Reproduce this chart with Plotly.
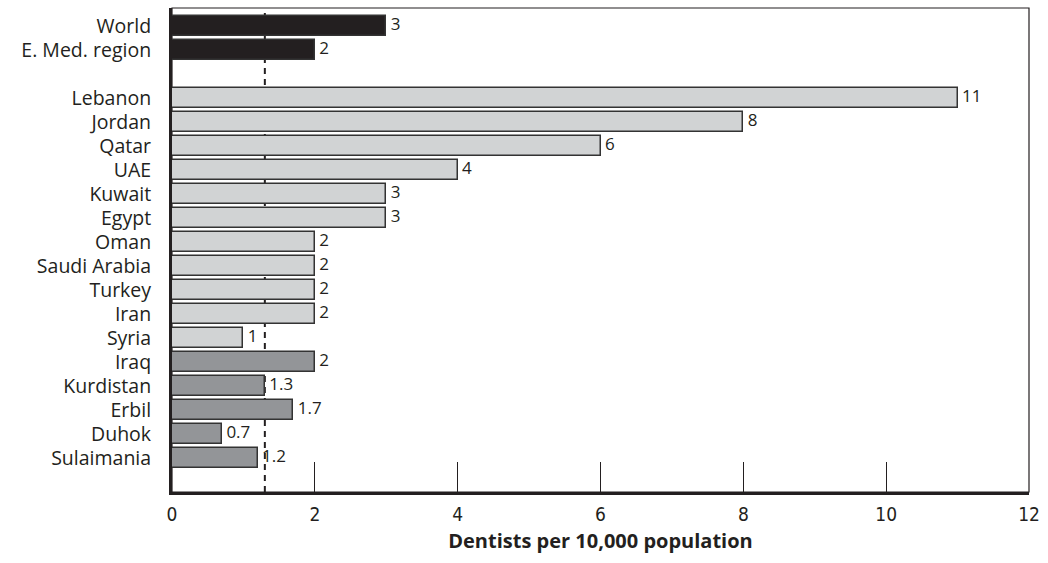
import plotly.graph_objects as go

# Dentists per 10,000 population, top to bottom ("" is a spacer row)
categories = ["World", "E. Med. region", "",
              "Lebanon", "Jordan", "Qatar", "UAE", "Kuwait", "Egypt", "Oman",
              "Saudi Arabia", "Turkey", "Iran", "Syria",
              "Iraq", "Kurdistan", "Erbil", "Duhok", "Sulaimania"]
values = [3, 2, None,
          11, 8, 6, 4, 3, 3, 2,
          2, 2, 2, 1,
          2, 1.3, 1.7, 0.7, 1.2]
labels = ["3", "2", "",
          "11", "8", "6", "4", "3", "3", "2",
          "2", "2", "2", "1",
          "2", "1.3", "1.7", "0.7", "1.2"]
groups = ["ref", "ref", None] + ["country"] * 11 + ["iraq"] * 5
kurdistan_level = 1.3

colors = {"ref": "#231f20", "country": "#d1d3d4", "iraq": "#939598"}
ink = "#231f20"
sans = "Open Sans, Noto Sans, sans-serif"
narrow = "DejaVu Sans Condensed, Liberation Sans Narrow, sans-serif"

positions = list(range(len(categories)))
bar_x, bar_y, bar_c, bar_t = [], [], [], []
for p, v, g, t in zip(positions, values, groups, labels):
    if v is None:
        continue
    bar_x.append(v)
    bar_y.append(p)
    bar_c.append(colors[g])
    bar_t.append(t)

fig = go.Figure()
fig.add_trace(go.Bar(
    x=bar_x, y=bar_y, orientation="h",
    marker=dict(color=bar_c, line=dict(color="#333333", width=1.5)),
    width=0.8,
    hoverinfo="skip",
))
# value labels just past the bar ends
fig.add_trace(go.Scatter(
    x=bar_x, y=bar_y, mode="text", text=[" " + t for t in bar_t],
    textposition="middle right", cliponaxis=False,
    textfont=dict(family=sans, size=17, color=ink),
    hoverinfo="skip",
))

# frame around the plot area (thin top/right)
fig.add_shape(type="rect", xref="paper", yref="paper", x0=0, x1=1, y0=0, y1=1,
              line=dict(color=ink, width=1.2), layer="below")
# Kurdistan reference line
fig.add_shape(type="line", xref="x", yref="paper", x0=kurdistan_level, x1=kurdistan_level,
              y0=0, y1=1, line=dict(color=ink, width=2, dash="6px,5px"), layer="below")

fig.update_layout(
    width=1048, height=563,
    margin=dict(l=172, r=15, t=8, b=71),
    paper_bgcolor="white", plot_bgcolor="white",
    showlegend=False, bargap=0,
    font=dict(family=sans, color=ink),
    xaxis=dict(
        range=[0, 12], tickvals=[0, 2, 4, 6, 8, 10, 12],
        ticks="inside", ticklen=30, tickwidth=1, tickcolor=ink,
        showgrid=False, zeroline=False,
        showline=True, linewidth=3, linecolor=ink,
        ticklabelstandoff=3,
        tickfont=dict(family=narrow, size=19, color=ink),
        title=dict(text="<b>Dentists per 10,000 population</b>", standoff=11,
                   font=dict(family=sans, size=20, color=ink)),
    ),
    yaxis=dict(
        range=[19.42, -0.75], tickvals=positions, ticktext=categories,
        ticks="", showgrid=False, zeroline=False,
        showline=True, linewidth=3, linecolor=ink,
        ticklabelstandoff=14,
        tickfont=dict(family=sans, size=19.5, color=ink),
    ),
)

fig.write_html("out.html")
